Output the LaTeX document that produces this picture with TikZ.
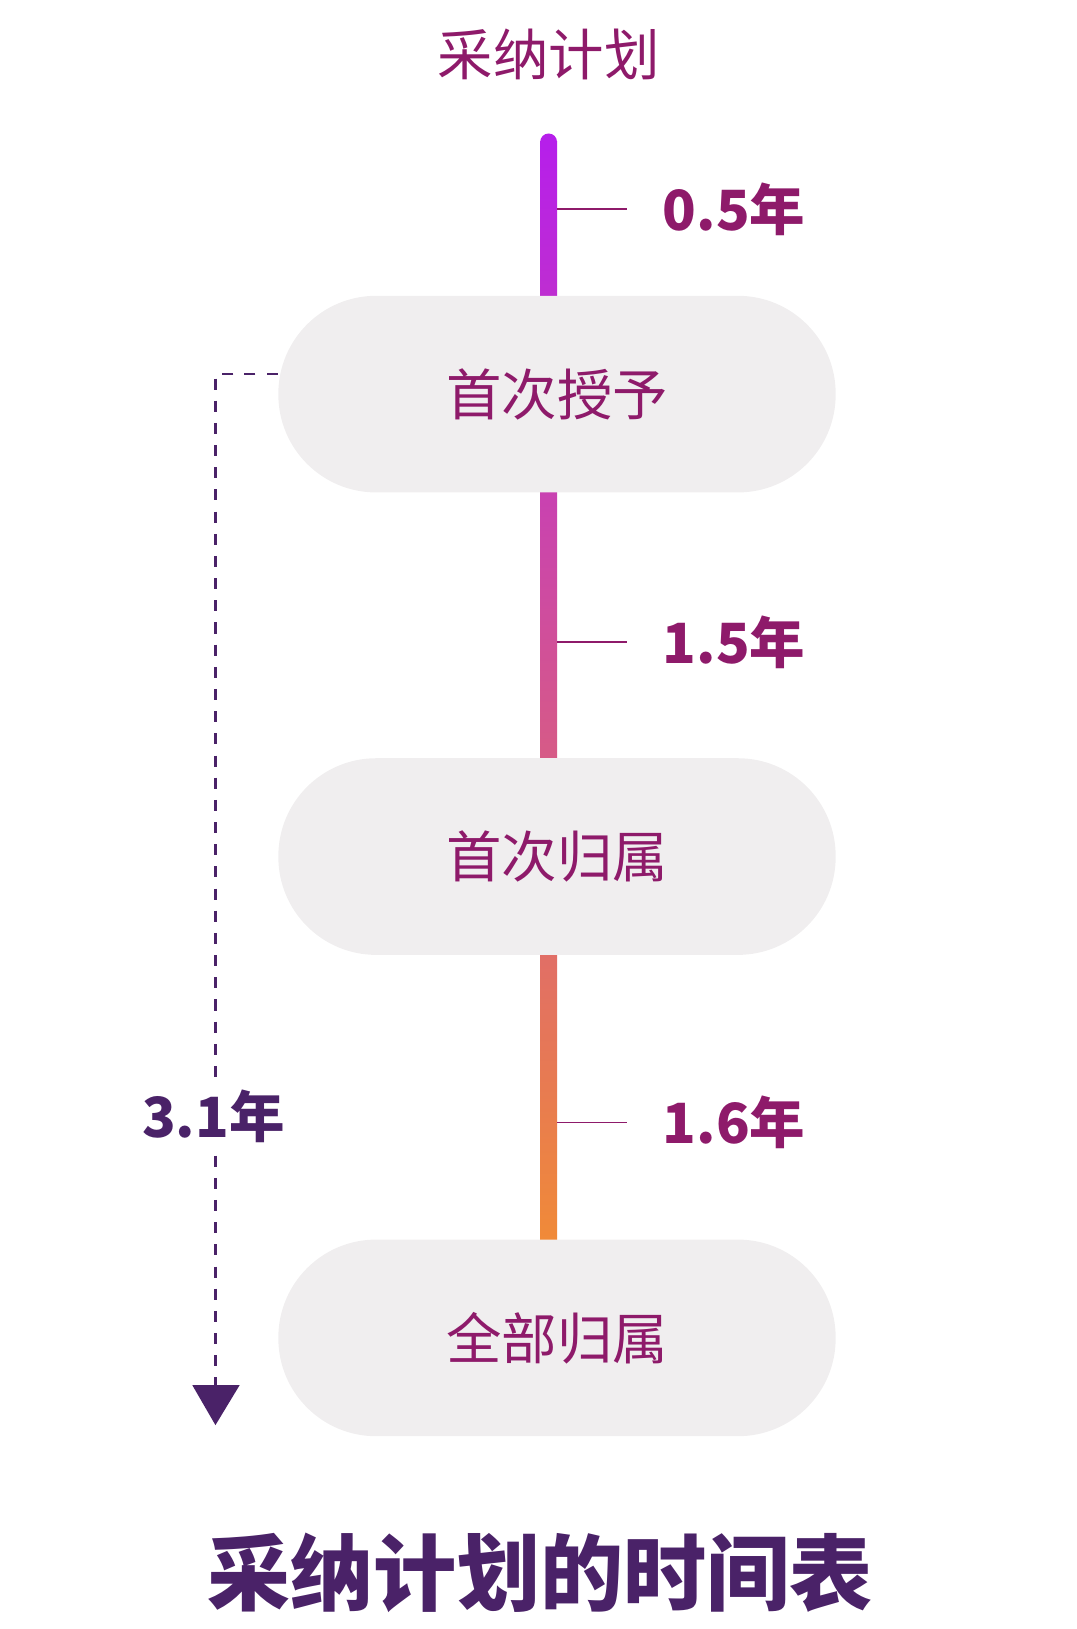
\documentclass[tikz,border=0pt]{standalone}
\usepackage{fontspec}
\setmainfont{Noto Sans CJK SC}
\usetikzlibrary{arrows.meta}
\definecolor{mag}{HTML}{8E1A6A}
\definecolor{dpur}{HTML}{4A2268}
\definecolor{pill}{HTML}{F0EEEF}
\definecolor{vio}{HTML}{B61FEA}
\definecolor{org}{HTML}{F08A38}
\tikzset{
  pillbox/.style={fill=pill,rounded corners=0.93cm,minimum width=5.3cm,minimum height=1.87cm,inner sep=0,font=\fontsize{15}{18}\selectfont,text=mag},
  yrs/.style={anchor=west,font=\fontsize{15}{18}\selectfont\bfseries,text=mag,inner sep=0},
  tick/.style={draw=mag,line width=0.5pt}
}
\begin{document}
\begin{tikzpicture}[x=0.01cm,y=-0.01cm]
\useasboundingbox (0,0) rectangle (1024,1550);
\node[font=\fontsize{15}{18}\selectfont,text=mag] (top) at (522,52) {采纳计划};
\shade[top color=vio,bottom color=org] (514,135) rectangle (530,1180);
\fill[vio] (522,135) circle (0.08cm);
\foreach \y/\t/\n in {199/0.5年/a,611/1.5年/b,1068/1.6年/c}{
  \coordinate (t\n) at (530,\y);
  \node[yrs] (l\n) at (630,\y) {\t};
  \draw[tick] (t\n) -- ++(67,0);
}
\node[pillbox] (p1) at (530,375) {首次授予};
\node[pillbox] (p2) at (530,815) {首次归属};
\node[pillbox] (p3) at (530,1273) {全部归属};
\node[font=\fontsize{15}{18}\selectfont\bfseries,text=dpur] (tot) at (203,1062) {3.1年};
\coordinate (d0) at (205,356);
\coordinate (d1) at (205,1320);
\draw[dpur,dashed,line width=0.6pt] (p1.west|-d0) -- (d0) -- (tot.north-|d0);
\draw[dpur,dashed,line width=0.6pt] (tot.south-|d0) -- (d1);
\fill[dpur] (183,1318) -- (228,1318) -- (205,1356) -- cycle;
\node[font=\fontsize{22.5}{27}\selectfont\bfseries,text=dpur] (title) at (514,1497) {采纳计划的时间表};
\end{tikzpicture}
\end{document}
